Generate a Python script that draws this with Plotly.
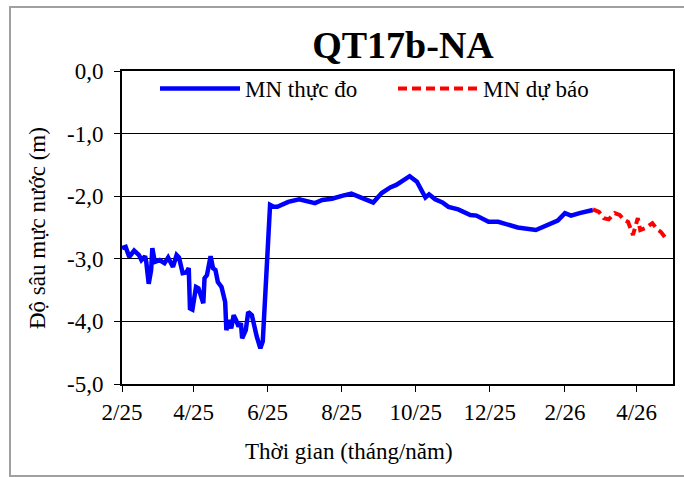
import plotly.graph_objects as go

# ---- data ----
obs_dates = ["2025-02-01","2025-02-04","2025-02-07","2025-02-11","2025-02-15","2025-02-17","2025-02-20",
             "2025-02-21","2025-02-23","2025-02-25","2025-02-26","2025-02-28","2025-03-04","2025-03-08",
             "2025-03-11","2025-03-15","2025-03-18","2025-03-20","2025-03-23","2025-03-26","2025-03-28",
             "2025-03-29","2025-03-31","2025-04-03","2025-04-05","2025-04-09","2025-04-10","2025-04-12",
             "2025-04-15","2025-04-17","2025-04-19","2025-04-21","2025-04-24","2025-04-27","2025-04-28",
             "2025-04-30","2025-05-02","2025-05-04","2025-05-06","2025-05-08","2025-05-10","2025-05-11",
             "2025-05-14","2025-05-16","2025-05-19","2025-05-21","2025-05-23","2025-05-26","2025-05-28",
             "2025-06-03","2025-06-06","2025-06-09","2025-06-18","2025-06-27","2025-07-02","2025-07-10",
             "2025-07-16","2025-07-24","2025-08-02","2025-08-09","2025-08-18","2025-08-27","2025-09-03",
             "2025-09-10","2025-09-15","2025-09-21","2025-09-26","2025-10-02","2025-10-09","2025-10-12",
             "2025-10-17","2025-10-23","2025-10-28","2025-11-05","2025-11-15","2025-11-20","2025-11-30",
             "2025-12-08","2025-12-24","2026-01-08","2026-01-16","2026-01-26","2026-02-01","2026-02-06",
             "2026-02-13","2026-02-24"]
obs_values = [-2.83,-2.81,-2.97,-2.87,-2.94,-3.02,-2.96,
              -3.05,-3.40,-3.18,-2.83,-3.05,-3.02,-3.07,
              -2.98,-3.13,-2.94,-2.98,-3.23,-3.22,-3.15,
              -3.79,-3.81,-3.45,-3.47,-3.71,-3.31,-3.26,
              -2.96,-3.15,-3.18,-3.37,-3.45,-3.69,-4.14,
              -3.98,-4.11,-3.90,-3.98,-4.08,-4.03,-4.27,
              -4.14,-3.85,-3.90,-4.08,-4.24,-4.43,-4.32,
              -2.14,-2.17,-2.17,-2.09,-2.05,-2.07,-2.11,
              -2.06,-2.04,-1.99,-1.96,-2.03,-2.10,-1.95,
              -1.86,-1.82,-1.74,-1.68,-1.77,-2.02,-1.97,
              -2.05,-2.10,-2.17,-2.21,-2.30,-2.31,-2.41,
              -2.41,-2.50,-2.54,-2.48,-2.39,-2.27,-2.31,
              -2.27,-2.22]

fc_dates = ["2026-02-24","2026-03-01","2026-03-05","2026-03-09","2026-03-14","2026-03-18","2026-03-22",
            "2026-03-25","2026-03-29","2026-04-02","2026-04-04","2026-04-08","2026-04-14","2026-04-18",
            "2026-04-21","2026-04-25"]
fc_values = [-2.21,-2.25,-2.35,-2.37,-2.27,-2.30,-2.38,
             -2.41,-2.62,-2.35,-2.54,-2.51,-2.43,-2.53,
             -2.57,-2.67]

y_tickvals = [0, -1, -2, -3, -4, -5]
y_ticktext = ["0,0", "-1,0", "-2,0", "-3,0", "-4,0", "-5,0"]

title_text = "QT17b-NA"
x_title = "Thời gian (tháng/năm)"
y_title = "Độ sâu mực nước (m)"
name_obs = "MN thực đo"
name_fc = "MN dự báo"

FONT = "Liberation Serif, Times New Roman, serif"
FS = 23

fig = go.Figure()
fig.add_trace(go.Scatter(x=obs_dates, y=obs_values, mode="lines", name=name_obs,
                         line=dict(color="#0000FF", width=4.5)))
fig.add_trace(go.Scatter(x=fc_dates, y=fc_values, mode="lines", name=name_fc,
                         line=dict(color="#FF0000", width=4, dash="9px,5px")))

L, R, T, B = 122, 673, 71, 384
W, H = 684, 477
pw, ph = R - L, B - T

def px(x):
    return (x - L) / pw

def py(y):
    return (B - y) / ph

fig.update_layout(
    width=W, height=H,
    margin=dict(l=L, r=W - R, t=T, b=H - B, pad=0, autoexpand=False),
    paper_bgcolor="white", plot_bgcolor="white",
    font=dict(family=FONT, size=FS, color="black"),
    title=dict(text="<b>" + title_text + "</b>", font=dict(family=FONT, size=38, color="black"),
               x=px(403), xref="paper", xanchor="center",
               y=1 - 45 / H, yref="container", yanchor="middle"),
    showlegend=True,
    legend=dict(orientation="h", x=px(155), y=py(67), xanchor="left", yanchor="top",
                font=dict(family=FONT, size=FS, color="black"),
                bgcolor="rgba(0,0,0,0)", itemwidth=80, entrywidth=143, tracegroupgap=0),
    xaxis=dict(type="date", range=["2025-02-01", "2026-05-01"],
               tick0="2025-02-01", dtick="M2", tickformat="%-m/%y",
               showgrid=False, zeroline=False,
               showline=True, linecolor="black", linewidth=2, mirror=True,
               ticks="outside", ticklen=6, tickcolor="black", tickwidth=1,
               tickfont=dict(family=FONT, size=FS, color="black")),
    yaxis=dict(range=[-5, 0], tickvals=y_tickvals, ticktext=y_ticktext,
               showgrid=True, gridcolor="black", gridwidth=1, zeroline=False,
               showline=True, linecolor="black", linewidth=2, mirror=True,
               ticks="outside", ticklen=6, tickcolor="black", tickwidth=1,
               ticklabelstandoff=6,
               tickfont=dict(family=FONT, size=FS, color="black")),
    annotations=[
        dict(text=x_title, xref="paper", yref="paper", x=px(349), y=py(451),
             xanchor="center", yanchor="middle", showarrow=False,
             font=dict(family=FONT, size=FS, color="black")),
        dict(text=y_title, xref="paper", yref="paper", x=px(37), y=py(228),
             xanchor="center", yanchor="middle", showarrow=False, textangle=-90,
             font=dict(family=FONT, size=FS, color="black")),
    ],
    shapes=[
        dict(type="rect", xref="paper", yref="paper",
             x0=px(10), x1=px(690), y0=py(476), y1=py(7),
             line=dict(color="#A0A0A0", width=2), fillcolor="rgba(0,0,0,0)", layer="below"),
    ],
)

fig.write_html("out.html", config={"displayModeBar": False},
               post_script="document.body.style.margin='0';document.body.style.overflow='hidden';")
